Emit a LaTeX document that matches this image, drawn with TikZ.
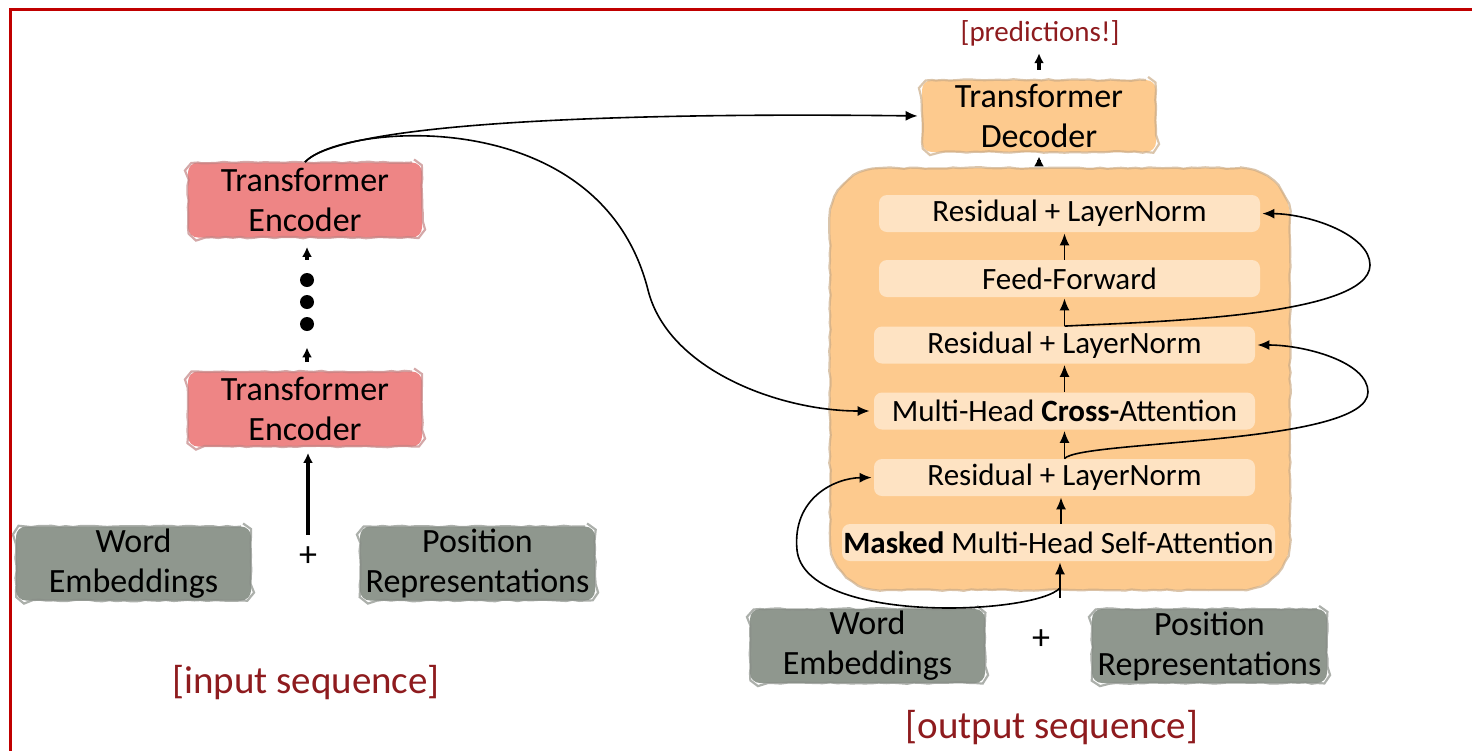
\documentclass[tikz,border=0pt]{standalone}
\usepackage{fontspec}
\setmainfont{Carlito}
\usetikzlibrary{arrows.meta,decorations.pathmorphing,calc}
\definecolor{frameRed}{HTML}{C00000}
\definecolor{labelRed}{HTML}{8E1B1E}
\definecolor{encFill}{HTML}{EE8585}
\definecolor{embFill}{HTML}{8F978E}
\definecolor{decFill}{HTML}{FDCA8E}
\definecolor{subFill}{HTML}{FEE3C3}

\begin{document}
\begin{tikzpicture}[x=0.5pt,y=-0.5pt,
  roughedge/.style={postaction={sharp corners, decorate,
    decoration={random steps,segment length=3.5pt,amplitude=0.4pt},
    draw=#1, line width=1.1pt, draw opacity=0.7}},
  blockbox/.style={rounded corners=5pt, fill=#1, roughedge=#1!60!gray,
    align=center, inner sep=0pt, font=\fontsize{17}{20}\selectfont},
  encbox/.style={blockbox=encFill, minimum width=117pt, minimum height=37.5pt},
  embbox/.style={blockbox=embFill, minimum width=117.5pt, minimum height=37pt},
  decbox/.style={blockbox=decFill, minimum width=117pt, minimum height=36pt},
  subbox/.style={fill=subFill, rounded corners=4pt, minimum height=18.5pt, inner sep=0pt,
    font=\fontsize{15.5}{18}\selectfont},
  seqlabel/.style={text=labelRed, inner sep=0pt, font=\fontsize{19.5}{22}\selectfont},
  arr/.style={-{Latex[length=6pt,width=5pt]}, line width=0.8pt},
  bold arr/.style={-{Latex[length=5pt,width=5pt]}, line width=1.7pt},
  dotnode/.style={circle, fill=black, minimum size=7pt, inner sep=0pt},
  plussign/.style={font=\fontsize{18}{20}\selectfont, inner sep=0pt}
]
\useasboundingbox (0,0) rectangle (1472,751);

% frame
\draw[frameRed, line width=1.5pt] (1472,9) -- (10,9) -- (10,751);

% ---------------- encoder side ----------------
\node[encbox] (encT) at (305,200) {Transformer\\Encoder};
\node[encbox] (encB) at (305,409) {Transformer\\Encoder};
\node[dotnode] (d1) at (307,280) {};
\node[dotnode] (d2) at (307,302) {};
\node[dotnode] (d3) at (307,324) {};
\node[embbox] (wembL) at (133.5,563.5) {Word\\Embeddings};
\node[embbox] (posL) at (477.5,563.5) {Position\\Representations};
\node[plussign] (plusL) at (308,557) {+};
\node[seqlabel] (inseq) at (306,683) {[input sequence]};

\draw[bold arr, shorten <=6.5pt, shorten >=4.5pt] (d1.north) -- (d1.north |- encT.south);
\draw[bold arr, shorten <=4.5pt, shorten >=8pt] (d3.south |- encB.north) -- (d3.south);
\draw[bold arr, shorten <=6pt, shorten >=3pt] (plusL.north) -- (plusL.north |- encB.south);

% ---------------- decoder side ----------------
\node[seqlabel, font=\fontsize{14.5}{17}\selectfont] (pred) at (1040,33) {[predictions!]};
\node[decbox] (dec) at (1039,116) {Transformer\\Decoder};
\node[rounded corners=25pt, fill=decFill, roughedge=decFill!60!gray,
      minimum width=230pt, minimum height=211pt, inner sep=0pt] (blk) at (1060,379) {};

\node[subbox, minimum width=190.5pt] (rl3) at (1069.5,213.5) {Residual + LayerNorm};
\node[subbox, minimum width=190.5pt] (ff)  at (1069.5,278.5) {Feed-Forward};
\node[subbox, minimum width=190.5pt] (rl2) at (1064.5,345) {Residual + LayerNorm};
\node[subbox, minimum width=190.5pt] (ca)  at (1064.5,411) {Multi-Head \textbf{Cross-}Attention};
\node[subbox, minimum width=190.5pt] (rl1) at (1064.5,477.5) {Residual + LayerNorm};
\node[subbox, minimum width=216.5pt] (mm)  at (1058.5,542.5) {\textbf{Masked} Multi-Head Self-Attention};

\node[embbox] (wembR) at (867.5,646) {Word\\Embeddings};
\node[embbox] (posR) at (1209.5,646) {Position\\Representations};
\node[plussign] (plusR) at (1041,640) {+};
\node[seqlabel] (outseq) at (1052,728) {[output sequence]};

\draw[bold arr, shorten <=5pt, shorten >=3.5pt] (dec.north) -- (dec.north |- pred.south);
\draw[bold arr, shorten <=4pt, shorten >=2pt] (blk.north -| dec.south) -- (dec.south);

\draw[arr, shorten >=0.5pt] (ff.north -| rl2.north) -- (rl3.south -| rl2.north);
\draw[arr, shorten >=0.5pt] (rl2.north) -- (rl2.north |- ff.south);
\draw[arr, shorten >=0.5pt] (ca.north) -- (rl2.south);
\draw[arr, shorten >=0.5pt] (rl1.north) -- (ca.south);
\draw[arr, shorten >=0.5pt] (mm.north -| 1061,0) -- (rl1.south -| 1061,0);

\coordinate (inp) at (1060,598);
\coordinate (split) at (1060,588);
\draw[arr, shorten >=0.5pt] (inp) -- (inp |- mm.south);

% residual connections
\draw[arr, shorten >=1pt] (rl2.north) .. controls (1140,322) and (1370,318) .. (1370,265)
      .. controls (1370,235) and (1310,214) .. (rl3.east);
\draw[arr, shorten >=1pt] (rl1.north) .. controls (1080,440) and (1368,445) .. (1368,392)
      .. controls (1368,362) and (1305,345) .. (rl2.east);
\draw[arr, shorten >=1pt] (split) .. controls (1035,615) and (805,625) .. (797,550)
      .. controls (792,498) and (835,478) .. (rl1.west);

% encoder output into the decoder
\draw[arr, shorten >=2pt] (encT.north) .. controls (340,124) and (600,112) .. (dec.west);
\draw[arr, shorten >=2pt] (encT.north) .. controls (340,124) and (600,100) .. (648,290)
      .. controls (668,370) and (780,411) .. (ca.west);
\end{tikzpicture}
\end{document}
